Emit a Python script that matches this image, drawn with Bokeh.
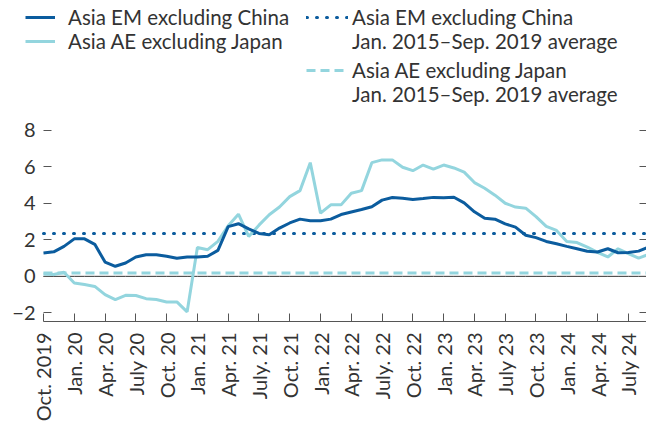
import numpy as np
from bokeh.plotting import figure
from bokeh.models import Range1d, FixedTicker, LinearAxis, Legend, LegendItem
from bokeh.embed import file_html
from bokeh.resources import INLINE

# ---- data (monthly, Oct. 2019 .. Sep. 2024) ----
month_index = list(range(60))
em_ex_china = [1.28, 1.34, 1.64, 2.05, 2.05, 1.75, 0.78, 0.55, 0.73, 1.06,
               1.18, 1.18, 1.10, 0.99, 1.06, 1.06, 1.10, 1.42, 2.72, 2.88,
               2.60, 2.35, 2.28, 2.64, 2.92, 3.13, 3.04, 3.04, 3.13, 3.38,
               3.52, 3.66, 3.81, 4.17, 4.31, 4.27, 4.21, 4.26, 4.32, 4.30,
               4.33, 4.02, 3.53, 3.18, 3.13, 2.87, 2.69, 2.25, 2.12, 1.91,
               1.78, 1.64, 1.51, 1.37, 1.33, 1.51, 1.29, 1.31, 1.38, 1.60]
ae_ex_japan = [0.13, 0.10, 0.22, -0.36, -0.45, -0.55, -1.00, -1.27, -1.04, -1.05,
               -1.22, -1.27, -1.40, -1.40, -1.94, 1.58, 1.46, 1.91, 2.77, 3.40,
               2.18, 2.80, 3.37, 3.79, 4.36, 4.69, 6.22, 3.46, 3.91, 3.91,
               4.55, 4.69, 6.22, 6.37, 6.37, 5.97, 5.78, 6.09, 5.87, 6.09,
               5.93, 5.70, 5.13, 4.82, 4.44, 4.00, 3.79, 3.73, 3.27, 2.73,
               2.51, 1.91, 1.85, 1.60, 1.31, 1.06, 1.51, 1.24, 1.00, 1.20]
em_avg = 2.35
ae_avg = 0.18

tick_positions = list(range(0, 60, 3))
tick_labels = ["Oct. 2019", "Jan. 20", "Apr. 20", "July 20", "Oct. 20", "Jan. 21",
               "Apr. 21", "July. 21", "Oct. 21", "Jan. 22", "Apr. 22", "July. 22",
               "Oct. 22", "Jan. 23", "Apr. 23", "July 23", "Oct. 23", "Jan. 24",
               "Apr. 24", "July 24"]
y_ticks = [-2, 0, 2, 4, 6, 8]
y_tick_labels = {-2: "\u22122", 0: "0", 2: "2", 4: "4", 6: "6", 8: "8"}

DARK = "#0b5c9e"
LIGHT = "#93d5de"
TEXT = "#333333"
AXIS = "#555555"
FONT = "Lato"

# frame spans the full width; month 0 sits 43 px in from the left edge
p = figure(width=646, height=424, x_range=Range1d(-4.19, 58.77), y_range=Range1d(-2.47, 15.09),
           output_backend="svg", toolbar_location=None,
           min_border_left=0, min_border_right=0, min_border_top=0, min_border_bottom=102)
p.outline_line_color = None
p.grid.visible = False
p.background_fill_color = "white"

# x axis
xa = p.xaxis[0]
xa.ticker = FixedTicker(ticks=tick_positions)
xa.bounds = (0, 60)
xa.major_label_overrides = {t: l for t, l in zip(tick_positions, tick_labels)}
xa.major_label_orientation = np.pi / 2
xa.major_tick_in = 8
xa.major_tick_out = 0
xa.minor_tick_line_color = None
xa.axis_line_color = AXIS
xa.major_tick_line_color = AXIS
xa.major_label_standoff = 11
xa.major_label_text_font = FONT
xa.major_label_text_font_size = "20px"
xa.major_label_text_color = TEXT

# left y axis, pinned at the first month
ya = p.yaxis[0]
ya.fixed_location = 0
ya.ticker = FixedTicker(ticks=y_ticks)
ya.major_label_overrides = y_tick_labels
ya.axis_line_color = None
ya.major_tick_in = 8
ya.major_tick_out = 0
ya.minor_tick_line_color = None
ya.major_tick_line_color = AXIS
ya.major_label_standoff = 8
ya.major_label_text_font = FONT
ya.major_label_text_font_size = "20px"
ya.major_label_text_color = TEXT

# right y axis (ticks only)
ra = LinearAxis(ticker=FixedTicker(ticks=y_ticks))
ra.axis_line_color = None
ra.major_tick_in = 7
ra.major_tick_out = 0
ra.minor_tick_line_color = None
ra.major_tick_line_color = AXIS
ra.major_label_standoff = 0
ra.major_label_text_font_size = "0px"
ra.major_label_overrides = {t: "" for t in y_ticks}
p.add_layout(ra, "right")

# zero line
p.line(month_index, [0] * len(month_index), line_color="#333333", line_width=1)

r_ae_avg = p.line(month_index, [ae_avg] * len(month_index), line_color=LIGHT, line_width=3,
                  line_dash="9 5")
r_em_avg = p.line(month_index, [em_avg] * len(month_index), line_color=DARK, line_width=3,
                  line_dash="1 9", line_cap="round")
r_ae = p.line(month_index, ae_ex_japan, line_color=LIGHT, line_width=3)
r_em = p.line(month_index, em_ex_china, line_color=DARK, line_width=3)
blank = p.line(x=[], y=[], line_alpha=0)


def make_legend(items, loc, glyph_width, standoff):
    lg = Legend(items=items, location=loc)
    lg.border_line_color = None
    lg.background_fill_alpha = 0
    lg.padding = 0
    lg.margin = 0
    lg.spacing = 0
    lg.glyph_width = glyph_width
    lg.glyph_height = 20
    lg.label_height = 20
    lg.label_standoff = standoff
    lg.label_text_font = FONT
    lg.label_text_font_size = "20.5px"
    lg.label_text_color = TEXT
    return lg


avg_label = "Jan. 2015\u2013Sep. 2019 average"
p.add_layout(make_legend([LegendItem(label="Asia EM excluding China", renderers=[r_em]),
                          LegendItem(label="Asia AE excluding Japan", renderers=[r_ae])],
                         (25, 268), 30, 13), "center")
p.add_layout(make_legend([LegendItem(label="Asia EM excluding China", renderers=[r_em_avg]),
                          LegendItem(label=avg_label, renderers=[blank])],
                         (306, 268), 42, 4), "center")
p.add_layout(make_legend([LegendItem(label="Asia AE excluding Japan", renderers=[r_ae_avg]),
                          LegendItem(label=avg_label, renderers=[blank])],
                         (306, 215), 42, 4), "center")

open("out.html", "w").write(file_html(p, INLINE))
